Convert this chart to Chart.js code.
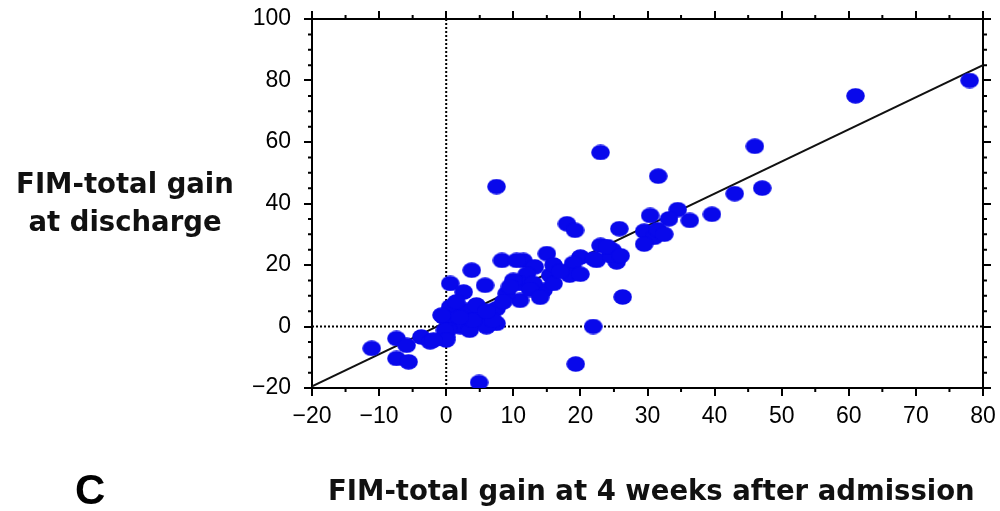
<!DOCTYPE html>
<html>
<head>
<meta charset="utf-8">
<script src="https://cdn.jsdelivr.net/npm/chart.js@4.4.1/dist/chart.umd.min.js"></script>
<style>
  html, body { margin: 0; padding: 0; background: #fff; }
  #wrap { position: relative; width: 1000px; height: 511px; overflow: hidden; background: #fff; }
  #c { position: absolute; left: 0; top: 0; }
  .ttl { position: absolute; font-family: "DejaVu Sans", sans-serif; font-weight: bold; font-size: 27.5px; line-height: 38px; color: #111; white-space: nowrap; }
  #ytitle { left: 0; width: 250px; top: 163.5px; text-align: center; }
  #xtitle { left: 328px; top: 471px; text-align: left; }
  #panel { position: absolute; left: 75px; top: 469px; font-family: "Liberation Sans", Arial, sans-serif; font-weight: bold; font-size: 42px; line-height: 42px; color: #000; }
</style>
</head>
<body>
<div id="wrap">
  <canvas id="c" width="1000" height="511"></canvas>
  <div id="ytitle" class="ttl">FIM-total gain<br>at discharge</div>
  <div id="xtitle" class="ttl">FIM-total gain at 4 weeks after admission</div>
  <div id="panel">C</div>
</div>
<script>
// ---- data ----
const gain4w = [78, 61, 46, 47.1, 43, 39.6, 36.3, 34.5, 33.2, 30.4, 31.6, 29.5, 31, 29.5, 31.5, 32.5,
  25.8, 23, 23, 24.8, 22.4, 25.4, 24.4, 20, 22, 24, 26, 7.5, 18, 19.2, 15, 11.5, 13.2, 15.5, 14.5,
  18.9, 18.4, 12, 11, 13, 16, 11, 26.3, 21.9, 19.3, 4.9, 3.8, 5.8, 0.6, 2.6, 8.3, 10.5, 10, 9, 7.5,
  7.5, 5, 3, 0.6, 0.6, 2.1, 0, 3.5, 6, 7, 4, -0.4, 1.5, 4.5, 6, 8.5, 2, 0.3, -0.2, 0, -0.7, -11.1,
  -7.4, -5.9, -3.7, -2.4, -7.4, -5.6, -1.9, 12.5, 14, 16, 17, 9.5, 20];
const gainDischarge = [80, 75, 58.6, 45, 43.2, 36.5, 34.5, 38, 35, 36.1, 48.9, 31, 29, 26.8, 31.5, 30,
  31.8, 56.6, 26.4, 24.8, 21.5, 21, 23.1, 22.6, 22, 26, 23, 45.5, 33.4, 31.3, 23.7, 21.5, 19.4, 16.7, 11.8,
  20.5, 16.7, 17, 14, 14, 20, 8.5, 9.6, 0, -12.2, -18.2, 18.3, 13.4, 14, 11.2, 21.5, 21.5, 15, 10.7, 5.8,
  1, 3.1, 5.3, 6.4, 1, -0.1, -3.4, -1.2, -0.1, 2, 2, 3.1, 8, 7, 5, 8, 3, -1, -1.2, -4.4, 3.7, -7.1,
  -3.9, -6.1, -3.4, -5, -10.4, -11.5, -4.4, 12, 9.5, 14, 18, 13, 17];
const fitX = [-20, 80];
const fitY = [-19.5, 85];
const xTickValues = [-20, -10, 0, 10, 20, 30, 40, 50, 60, 70, 80];
const yTickValues = [-20, 0, 20, 40, 60, 80, 100];
const xMinorStep = 5;
const yMinorStep = 5;

// ---- styling ----
const BLUE = 'rgb(8,8,235)';
const tickFont = { family: '"Liberation Sans", Arial, sans-serif', size: 23 };
const fmt = v => (v < 0 ? '\u2212' + Math.abs(v) : String(v));

const dot = document.createElement('canvas');
dot.width = 19; dot.height = 16;
(function () {
  const g = dot.getContext('2d');
  g.fillStyle = BLUE;
  g.beginPath();
  g.ellipse(9.5, 8, 9.3, 7.8, 0, 0, Math.PI * 2);
  g.fill();
})();

const scatterData = gain4w.map((x, i) => ({ x: x, y: gainDischarge[i] }));
const fitData = fitX.map((x, i) => ({ x: x, y: fitY[i] }));

const gridOpts = { drawOnChartArea: false, drawTicks: true, tickLength: 8, color: '#000', lineWidth: 2, tickWidth: 2 };
const borderOpts = { display: true, color: '#000', width: 2 };

const refLines = {
  id: 'refLines',
  beforeDatasetsDraw(chart) {
    const { ctx, chartArea: a, scales } = chart;
    const x0 = scales.x.getPixelForValue(0);
    const y0 = scales.y.getPixelForValue(0);
    ctx.save();
    ctx.strokeStyle = '#000';
    ctx.lineWidth = 2;
    ctx.setLineDash([2, 2]);
    ctx.beginPath();
    ctx.moveTo(x0, a.top); ctx.lineTo(x0, a.bottom);
    ctx.moveTo(a.left, y0); ctx.lineTo(a.right, y0);
    ctx.stroke();
    ctx.restore();
  }
};

const minorTicks = {
  id: 'minorTicks',
  afterDraw(chart) {
    const { ctx, chartArea: a, scales } = chart;
    const L = 4;
    ctx.save();
    ctx.strokeStyle = '#000';
    ctx.lineWidth = 2;
    ctx.beginPath();
    const xs = scales.x;
    for (let v = xs.min; v <= xs.max + 1e-9; v += xMinorStep) {
      if (xTickValues.includes(v)) continue;
      const px = xs.getPixelForValue(v);
      ctx.moveTo(px, a.bottom); ctx.lineTo(px, a.bottom + L);
      ctx.moveTo(px, a.top); ctx.lineTo(px, a.top - L);
    }
    const ys = scales.y;
    for (let v = ys.min; v <= ys.max + 1e-9; v += yMinorStep) {
      if (yTickValues.includes(v)) continue;
      const py = ys.getPixelForValue(v);
      ctx.moveTo(a.left, py); ctx.lineTo(a.left - L, py);
      ctx.moveTo(a.right, py); ctx.lineTo(a.right + L, py);
    }
    ctx.stroke();
    ctx.restore();
  }
};

const noPad = s => { s.paddingTop = 0; s.paddingBottom = 0; s.paddingLeft = 0; s.paddingRight = 0; };

new Chart(document.getElementById('c'), {
  type: 'scatter',
  data: {
    datasets: [
      { data: scatterData, pointStyle: dot, pointRadius: 9, pointHoverRadius: 9, backgroundColor: BLUE, borderColor: BLUE },
      { type: 'line', data: fitData, showLine: true, borderColor: '#111', borderWidth: 2, pointRadius: 0, fill: false, tension: 0 }
    ]
  },
  options: {
    responsive: false,
    animation: false,
    layout: { padding: { left: 242, right: 3, top: 9, bottom: 83 } },
    plugins: { legend: { display: false }, tooltip: { enabled: false } },
    scales: {
      x: {
        type: 'linear', position: 'bottom', min: -20, max: 80,
        afterBuildTicks: s => { s.ticks = xTickValues.map(v => ({ value: v })); },
        ticks: { callback: fmt, font: tickFont, color: '#000', padding: 7, maxRotation: 0, autoSkip: false },
        grid: gridOpts, border: borderOpts,
        afterFit: s => { s.height = 40; noPad(s); }
      },
      x2: {
        type: 'linear', position: 'top', min: -20, max: 80,
        afterBuildTicks: s => { s.ticks = xTickValues.map(v => ({ value: v })); },
        ticks: { display: false },
        grid: gridOpts, border: borderOpts,
        afterFit: s => { s.height = 10; noPad(s); }
      },
      y: {
        type: 'linear', position: 'left', min: -20, max: 100,
        afterBuildTicks: s => { s.ticks = yTickValues.map(v => ({ value: v })); },
        ticks: { callback: fmt, font: tickFont, color: '#000', padding: 13, autoSkip: false },
        grid: gridOpts, border: borderOpts,
        afterFit: s => { s.width = 70; noPad(s); }
      },
      y2: {
        type: 'linear', position: 'right', min: -20, max: 100,
        afterBuildTicks: s => { s.ticks = yTickValues.map(v => ({ value: v })); },
        ticks: { display: false },
        grid: gridOpts, border: borderOpts,
        afterFit: s => { s.width = 14; noPad(s); }
      }
    }
  },
  plugins: [refLines, minorTicks]
});
</script>
</body>
</html>
